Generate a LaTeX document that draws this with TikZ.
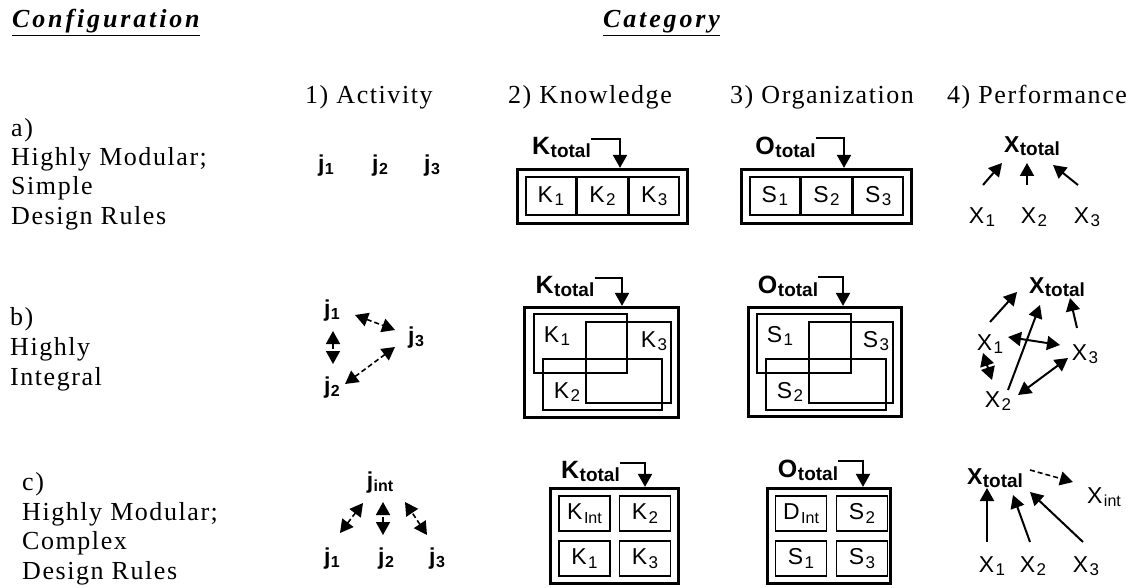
\documentclass[tikz,border=0pt]{standalone}
\usepackage{fontspec}
\setmainfont{Liberation Serif}
\setsansfont{Liberation Sans}
\newfontfamily\trk{Liberation Serif}[LetterSpace=6]
\newfontfamily\trkb{Liberation Serif}[LetterSpace=11]
\usetikzlibrary{arrows.meta,calc}
% label with a lowered index, regular and bold sans
\newcommand\rsub[3][17]{#2\kern1.5pt\raisebox{-3.5pt}{\fontsize{#1}{#1}\selectfont #3}}
\newcommand\bsub[3][16]{#2\kern0.5pt\raisebox{-3pt}{\fontsize{#1}{#1}\selectfont\bfseries #3}}
\begin{document}
\begin{tikzpicture}[x=1pt,y=-1pt,
  every node/.style={inner sep=0pt},
  serif/.style={anchor=base west, font=\trk\fontsize{26}{30}\selectfont},
  title/.style={anchor=base west, font=\trkb\bfseries\itshape\fontsize{26}{30}\selectfont},
  jlab/.style={anchor=base, font=\sffamily\bfseries\fontsize{23}{23}\selectfont},
  tot/.style={anchor=base, font=\sffamily\bfseries\fontsize{25}{25}\selectfont},
  xlab/.style={anchor=base, font=\sffamily\fontsize{23}{23}\selectfont},
  xtot/.style={anchor=base, font=\sffamily\bfseries\fontsize{23}{23}\selectfont},
  outer/.style={draw, line width=3.2pt, rectangle},
  cell/.style={draw, line width=1.8pt, rectangle, font=\sffamily\fontsize{23}{23}\selectfont},
  ovl/.style={draw, line width=1.6pt, rectangle},
  tip/.tip={Triangle[width=14pt,length=13pt]},
  arr/.style={line width=2pt, -tip},
  darr/.style={line width=2pt, tip-tip},
  dsh/.style={line width=1.6pt, dash pattern=on 5pt off 3pt, tip-tip},
]
\useasboundingbox (0,0) rectangle (1140,588);

% headings
\node[title] (conf) at (12,28) {\underline{Configuration}};
\node[title] (cat) at (603,28) {\underline{Category}};
\node[serif] (h1) at (305,104) {1) Activity};
\node[serif] (h2) at (508,104) {2) Knowledge};
\node[serif] (h3) at (730,104) {3) Organization};
\node[serif] (h4) at (947,104) {4) Performance};

% configuration names
\node[serif] (a0) at (11,137) {a)};
\node[serif] (a1) at (11,166) {Highly Modular;};
\node[serif] (a2) at (11,195) {Simple};
\node[serif] (a3) at (11,224) {Design Rules};
\node[serif] (b0) at (10,325) {b)};
\node[serif] (b1) at (10,355) {Highly};
\node[serif] (b2) at (10,385) {Integral};
\node[serif] (c0) at (22,490) {c)};
\node[serif] (c1) at (22,520) {Highly Modular;};
\node[serif] (c2) at (22,549) {Complex};
\node[serif] (c3) at (22,579) {Design Rules};

% ---------- row a ----------
\node[jlab] (ja1) at (326,172) {\bsub{j}{1}};
\node[jlab] (ja2) at (380,172) {\bsub{j}{2}};
\node[jlab] (ja3) at (432,172) {\bsub{j}{3}};

\node[outer, minimum width=170, minimum height=54] (kA) at (602.5,196.5) {};
\node[cell, minimum width=50, minimum height=38] (kA1) at (550.8,196) {\rsub{K}{1}};
\node[cell, minimum width=50, minimum height=38] (kA2) at (602.5,196) {\rsub{K}{2}};
\node[cell, minimum width=50, minimum height=38] (kA3) at (654.2,196) {\rsub{K}{3}};
\node[tot] (ktA) at (561.5,155) {\bsub[19]{K}{total}};
\draw[arr] ([shift={(0,1)}]ktA.north east) -| ([shift={(17.5,0)}]kA.north);

\node[outer, minimum width=170, minimum height=54] (oA) at (826.5,196.5) {};
\node[cell, minimum width=50, minimum height=38] (oA1) at (774.8,196) {\rsub{S}{1}};
\node[cell, minimum width=50, minimum height=38] (oA2) at (826.5,196) {\rsub{S}{2}};
\node[cell, minimum width=50, minimum height=38] (oA3) at (878.2,196) {\rsub{S}{3}};
\node[tot] (otA) at (785.5,155) {\bsub[19]{O}{total}};
\draw[arr] ([shift={(0,1)}]otA.north east) -| ([shift={(17.5,0)}]oA.north);

\node[xtot] (xtA) at (1032,153) {\bsub[19]{X}{total}};
\node[xlab] (xa1) at (982,223) {\rsub{X}{1}};
\node[xlab] (xa2) at (1034,223) {\rsub{X}{2}};
\node[xlab] (xa3) at (1087,223) {\rsub{X}{3}};
\draw[arr] ([shift={(1,-38)}]xa1.base) -- ([shift={(-30,10)}]xtA.base);
\draw[arr] ([shift={(-7,-38)}]xa2.base) -- ([shift={(-5,10)}]xtA.base);
\draw[arr] ([shift={(-9,-38)}]xa3.base) -- ([shift={(21,12)}]xtA.base);

% ---------- row b ----------
\node[jlab] (jb1) at (332,316) {\bsub{j}{1}};
\node[jlab] (jb3) at (416,343) {\bsub{j}{3}};
\node[jlab] (jb2) at (332,393) {\bsub{j}{2}};
\draw[dsh] ([shift={(1,15)}]jb1.base) -- ([shift={(1,-29)}]jb2.base);
\draw[dsh] ([shift={(23,-1)}]jb1.base) -- ([shift={(-21,-13)}]jb3.base);
\draw[dsh] ([shift={(-21,4)}]jb3.base) -- ([shift={(13,-9)}]jb2.base);

\node[outer, minimum width=154, minimum height=110] (kB) at (601.5,362.5) {};
\node[ovl, minimum width=93, minimum height=59] (kB1) at (580.5,343.5) {};
\node[ovl, minimum width=85, minimum height=81] (kB3) at (628.5,362.5) {};
\node[ovl, minimum width=119, minimum height=51] (kB2) at (602.5,384.5) {};
\node[xlab] (kB1l) at (557,342) {\rsub{K}{1}};
\node[xlab] (kB3l) at (654,347) {\rsub{K}{3}};
\node[xlab] (kB2l) at (567,398) {\rsub{K}{2}};
\node[tot] (ktB) at (565,293) {\bsub[19]{K}{total}};
\draw[arr] ([shift={(0,2)}]ktB.north east) -| ([shift={(20.5,0)}]kB.north);

\node[outer, minimum width=153, minimum height=109] (oB) at (825,362) {};
\node[ovl, minimum width=94, minimum height=59] (oB1) at (804,343.5) {};
\node[ovl, minimum width=84, minimum height=81] (oB3) at (851,362.5) {};
\node[ovl, minimum width=120, minimum height=51] (oB2) at (826,384.5) {};
\node[xlab] (oB1l) at (780,342) {\rsub{S}{1}};
\node[xlab] (oB3l) at (876,347) {\rsub{S}{3}};
\node[xlab] (oB2l) at (790,398) {\rsub{S}{2}};
\node[tot] (otB) at (788,293) {\bsub[19]{O}{total}};
\draw[arr] ([shift={(0,2)}]otB.north east) -| ([shift={(18,0)}]oB.north);

\node[xtot] (xtB) at (1057,293) {\bsub[19]{X}{total}};
\node[xlab] (xb1) at (990,350) {\rsub{X}{1}};
\node[xlab] (xb3) at (1085,360) {\rsub{X}{3}};
\node[xlab] (xb2) at (998,407) {\rsub{X}{2}};
\draw[arr] ([shift={(0,-28)}]xb1.base) -- ([shift={(-40,-1)}]xtB.base);
\draw[arr] ([shift={(10,-17)}]xb2.base) -- ([shift={(-17,12)}]xtB.base);
\draw[arr] ([shift={(-8,-32)}]xb3.base) -- ([shift={(13,5)}]xtB.base);
\draw[darr] ([shift={(18,-13)}]xb1.base) -- ([shift={(-25,-15)}]xb3.base);
\draw[darr] ([shift={(-7,3)}]xb1.base) -- ([shift={(-6,-27)}]xb2.base);
\draw[darr] ([shift={(20,-12)}]xb2.base) -- ([shift={(-17,-2)}]xb3.base);

% ---------- row c ----------
\node[jlab] (jint) at (380,488) {\bsub{j}{int}};
\node[jlab] (jc1) at (332,564) {\bsub{j}{1}};
\node[jlab] (jc2) at (386,564) {\bsub{j}{2}};
\node[jlab] (jc3) at (437,564) {\bsub{j}{3}};
\draw[dsh] ([shift={(8,-31)}]jc1.base) -- ([shift={(-17,15)}]jint.base);
\draw[dsh] ([shift={(-3,-29)}]jc2.base) -- ([shift={(3,14)}]jint.base);
\draw[dsh] ([shift={(-10,-29)}]jc3.base) -- ([shift={(25,14)}]jint.base);

\node[outer, minimum width=128, minimum height=95] (kC) at (614.5,536) {};
\node[cell, minimum width=51, minimum height=35] (kCi) at (584.5,513.5) {\rsub[16]{K}{Int}};
\node[cell, minimum width=51, minimum height=35] (kC2) at (645,513.5) {\rsub{K}{2}};
\node[cell, minimum width=51, minimum height=35] (kC1) at (584.5,558.5) {\rsub{K}{1}};
\node[cell, minimum width=51, minimum height=35] (kC3) at (645,558.5) {\rsub{K}{3}};
\node[tot] (ktC) at (590.5,478) {\bsub[19]{K}{total}};
\draw[arr] ([shift={(0,2)}]ktC.north east) -| ([shift={(30.5,0)}]kC.north);

\node[outer, minimum width=123, minimum height=95] (oC) at (829,536) {};
\node[cell, minimum width=51, minimum height=35] (oCi) at (801,513.5) {\rsub[16]{D}{Int}};
\node[cell, minimum width=51, minimum height=35] (oC2) at (862,513.5) {\rsub{S}{2}};
\node[cell, minimum width=51, minimum height=35] (oC1) at (801,558.5) {\rsub{S}{1}};
\node[cell, minimum width=51, minimum height=35] (oC3) at (862,558.5) {\rsub{S}{3}};
\node[tot] (otC) at (808,477) {\bsub[19]{O}{total}};
\draw[arr] ([shift={(0,2)}]otC.north east) -| ([shift={(34,0)}]oC.north);

\node[xtot] (xtC) at (995,484) {\bsub[19]{X}{total}};
\node[xlab] (xint) at (1104,503) {\rsub[16]{X}{int}};
\node[xlab] (xc1) at (992,572) {\rsub{X}{1}};
\node[xlab] (xc2) at (1033,572) {\rsub{X}{2}};
\node[xlab] (xc3) at (1086,572) {\rsub{X}{3}};
\draw[arr] ([shift={(-5,-30)}]xc1.base) -- ([shift={(-8,4)}]xtC.base);
\draw[arr] ([shift={(-3,-30)}]xc2.base) -- ([shift={(18,11)}]xtC.base);
\draw[arr] ([shift={(-3,-30)}]xc3.base) -- ([shift={(35,8)}]xtC.base);
\draw[line width=1.6pt, dash pattern=on 5pt off 3pt, -tip] ([shift={(35,-14)}]xtC.base) -- ([shift={(-31,-21)}]xint.base);
\end{tikzpicture}
\end{document}
